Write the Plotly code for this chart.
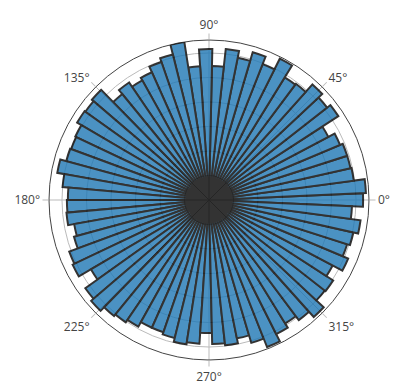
import plotly.graph_objects as go

# bar directions (degrees), 71 equal sectors
theta = [0.00, 5.07, 10.14, 15.21, 20.28, 25.35, 30.42, 35.49, 40.56, 45.63,
         50.70, 55.77, 60.85, 65.92, 70.99, 76.06, 81.13, 86.20, 91.27, 96.34,
         101.41, 106.48, 111.55, 116.62, 121.69, 126.76, 131.83, 136.90, 141.97, 147.04,
         152.11, 157.18, 162.25, 167.32, 172.39, 177.46, 182.54, 187.61, 192.68, 197.75,
         202.82, 207.89, 212.96, 218.03, 223.10, 228.17, 233.24, 238.31, 243.38, 248.45,
         253.52, 258.59, 263.66, 268.73, 273.80, 278.87, 283.94, 289.01, 294.08, 299.15,
         304.23, 309.30, 314.37, 319.44, 324.51, 329.58, 334.65, 339.72, 344.79, 349.86,
         354.93]

r = [6.29, 6.41, 5.96, 5.92, 5.92, 5.80, 5.51, 6.29, 6.12, 6.33,
     5.92, 5.88, 6.45, 5.96, 6.29, 5.92, 6.20, 5.47, 6.16, 5.47,
     6.53, 6.12, 5.96, 5.71, 5.59, 5.80, 5.59, 6.29, 6.20, 6.24,
     6.04, 6.00, 6.04, 6.29, 6.00, 5.76, 5.80, 5.84, 5.59, 5.71,
     6.08, 6.16, 5.59, 6.20, 6.33, 6.12, 6.04, 5.92, 5.71, 5.71,
     5.80, 5.96, 5.88, 5.43, 5.88, 5.96, 5.76, 6.08, 6.45, 6.12,
     5.92, 6.12, 6.41, 6.00, 6.04, 5.71, 6.16, 5.92, 6.04, 6.24,
     5.84]

fig = go.Figure()
fig.add_trace(go.Barpolar(
    r=r,
    theta=theta,
    width=360 / len(theta),
    marker=dict(color="#1f77b4", line=dict(color="black", width=2)),
    opacity=0.8,
))

fig.update_layout(
    template="none",
    width=420,
    height=390,
    margin=dict(l=41, r=59, t=32, b=38),
    showlegend=False,
    paper_bgcolor="white",
    font=dict(family="Open Sans", size=12, color="#444"),
    polar=dict(
        bgcolor="white",
        radialaxis=dict(
            range=[0, 6.53], dtick=1, showticklabels=False, ticks="",
            showline=False, gridcolor="#bbb", layer="below traces",
        ),
        angularaxis=dict(
            dtick=45, ticks="outside", ticklen=6, tickcolor="#bbb",
            linecolor="#444", gridcolor="#bbb", ticksuffix="°",
            layer="below traces",
        ),
    ),
)

fig.write_html("out.html")
